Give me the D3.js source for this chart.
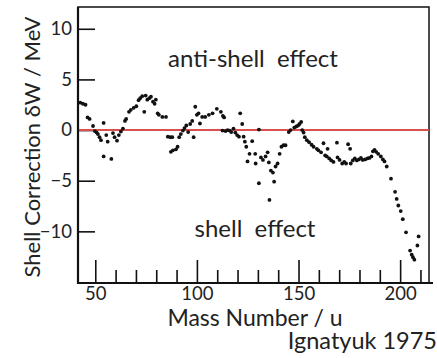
<!DOCTYPE html>
<html>
<head>
<meta charset="utf-8">
<script src="https://cdn.jsdelivr.net/npm/d3@7"></script>
<style>
  html, body { margin: 0; padding: 0; background: #fff; }
  svg { display: block; }
  text { font-family: Lato, "Open Sans", sans-serif; fill: #222; }
</style>
</head>
<body>
<svg id="chart" width="437" height="358"></svg>
<script>
// Mass number A of each nucleus
const massNumber = [
  42.6, 43.9, 45.2, 46.2, 47.2, 48.9, 49.8, 50.7, 51.3, 52.1, 52.8, 54.1, 54.1, 55.4, 56.1, 57.9,
  58.7, 59.5, 60.7, 61.6, 62.6, 63.6, 64.6, 65.2, 66.6, 67.5, 68.9, 70.2, 71.3, 72.1, 73.1, 74.1,
  74.8, 75.6, 76.6, 77.4, 78.4, 79.2, 79.8, 80.7, 81.3, 83.0, 84.8, 85.7, 86.9, 87.9, 87.2, 88.2,
  89.7, 90.5, 91.3, 92.1, 93.1, 93.9, 94.8, 95.7, 96.7, 97.7, 98.4, 99.2, 100.0, 100.8, 101.5, 102.6,
  104.1, 105.9, 107.7, 109.8, 111.8, 112.8, 113.4, 112.6, 114.1, 115.1, 116.1, 116.9, 118.0, 118.9, 119.8, 120.7,
  121.3, 122.3, 123.0, 123.6, 124.3, 124.9, 125.9, 127.2, 128.7, 128.9, 130.5, 130.5, 131.5, 132.5, 133.8, 134.8,
  135.4, 135.7, 136.4, 137.4, 138.0, 138.7, 139.7, 140.7, 141.6, 142.6, 143.6, 145.2, 146.1, 147.2, 147.9, 148.9,
  149.8, 150.5, 151.3, 151.8, 152.5, 153.1, 154.1, 155.2, 156.4, 157.4, 159.0, 159.8, 161.1, 162.3, 163.1, 163.9,
  164.3, 165.1, 166.1, 167.2, 168.9, 169.2, 170.2, 171.5, 172.5, 173.4, 174.4, 175.4, 175.7, 176.7, 177.7, 178.7,
  179.7, 180.7, 181.6, 182.8, 183.9, 184.9, 185.9, 186.6, 187.4, 188.2, 189.2, 190.5, 191.5, 192.3, 193.4, 195.5,
  197.5, 198.3, 199.1, 200.3, 201.3, 202.9, 204.9, 205.7, 206.3, 207.0, 208.5, 209.1
];

// Shell correction dW in MeV, same order as massNumber
const shellCorrection = [
  2.7, 2.6, 2.5, 1.25, 1.1, 0.4, -0.1, -0.25, -0.4, -0.7, -1.0, 0.7, -2.6, -0.5, -1.15, -2.85,
  -0.3, -0.7, -1.05, -0.5, -0.15, 0.15, 0.9, 1.1, 1.8, 2.0, 2.2, 2.35, 2.95, 3.15, 3.35, 1.8,
  3.4, 3.0, 3.15, 3.3, 2.8, 2.6, 3.0, 1.65, 1.5, 1.3, 1.3, -0.65, -0.7, -0.7, -2.15, -2.0,
  -1.9, -1.65, -0.7, -0.4, -0.05, 0.2, 0.45, -0.2, 0.6, 0.9, -0.7, 2.3, 1.5, 1.65, 0.65, 1.3,
  1.3, 1.5, 1.65, 2.1, 1.8, 1.4, 1.25, -0.05, -0.1, 0.0, -0.05, -0.2, 0.15, -0.25, -0.5, -0.65,
  1.65, 0.6, -0.65, -1.15, -1.65, -3.1, -2.35, -1.1, -2.35, -3.3, 0.05, -5.25, -2.7, -2.95, -2.6, -2.2,
  -3.2, -6.9, -4.0, -4.2, -5.1, -3.6, -3.3, -2.35, -1.65, -1.5, -1.5, -0.2, 0.0, 0.85, 0.25, 0.35,
  0.45, 0.6, 0.8, 0.0, -0.25, -0.7, -1.0, -1.2, -1.45, -1.65, -1.85, -2.0, -2.2, -1.3, -2.5, -2.6,
  -1.85, -2.8, -3.0, -3.15, -1.25, -2.7, -2.95, -3.3, -3.15, -3.3, -1.4, -1.85, -3.3, -3.0, -2.8, -3.0,
  -2.9, -2.75, -2.95, -2.9, -2.8, -2.75, -2.6, -2.1, -1.95, -2.15, -2.35, -2.6, -2.9, -3.1, -3.6, -4.8,
  -6.1, -6.8, -7.45, -8.0, -8.8, -10.1, -11.9, -12.3, -12.55, -12.8, -11.4, -10.5
];

// Axis ticks
const yTicks = [10, 5, 0, -5, -10];
const xMajorTicks = [50, 100, 150, 200];
const xMinorTicks = [60, 70, 80, 90, 110, 120, 130, 140, 160, 170, 180, 190, 210];

const svg = d3.select("#chart");
const plotLeft = 78, plotRight = 429, plotTop = 7, plotBottom = 283;

const x = d3.scaleLinear().domain([41.5, 214.2]).range([plotLeft, plotRight]);
const y = d3.scaleLinear().domain([-15.1, 12.15]).range([plotBottom, plotTop]);

// Frame
svg.append("rect")
  .attr("x", plotLeft).attr("y", plotTop)
  .attr("width", plotRight - plotLeft).attr("height", plotBottom - plotTop)
  .attr("fill", "none").attr("stroke", "#111").attr("stroke-width", 1.5);
svg.append("line")
  .attr("x1", plotLeft).attr("x2", plotLeft).attr("y1", plotTop).attr("y2", plotBottom + 1)
  .attr("stroke", "#111").attr("stroke-width", 2.2);
svg.append("line")
  .attr("x1", plotLeft - 1).attr("x2", plotRight + 4).attr("y1", plotBottom).attr("y2", plotBottom)
  .attr("stroke", "#111").attr("stroke-width", 2.2);

// Bottom axis: major ticks with labels, minor ticks without
const xMajor = svg.append("g")
  .attr("transform", `translate(0,${plotBottom})`)
  .call(d3.axisBottom(x).tickValues(xMajorTicks).tickSize(-23).tickPadding(4));
const xMinor = svg.append("g")
  .attr("transform", `translate(0,${plotBottom})`)
  .call(d3.axisBottom(x).tickValues(xMinorTicks).tickSize(-13).tickFormat(""));

// Left axis
const yAxis = svg.append("g")
  .attr("transform", `translate(${plotLeft},0)`)
  .call(d3.axisLeft(y).tickValues(yTicks).tickSize(-17).tickPadding(6));

[xMajor, xMinor, yAxis].forEach(g => {
  g.select(".domain").remove();
  g.selectAll(".tick line").attr("stroke", "#111").attr("stroke-width", 1.6);
  g.selectAll(".tick text")
    .attr("font-family", "Lato, 'Open Sans', sans-serif")
    .attr("font-size", 18.5).attr("fill", "#222");
});

// Zero line
svg.append("line")
  .attr("x1", plotLeft + 1).attr("x2", plotRight)
  .attr("y1", y(0)).attr("y2", y(0))
  .attr("stroke", "#d9504f").attr("stroke-width", 2);

// Data points
svg.append("g")
  .selectAll("circle")
  .data(d3.range(massNumber.length))
  .join("circle")
  .attr("cx", i => x(massNumber[i]))
  .attr("cy", i => y(shellCorrection[i]))
  .attr("r", 1.9)
  .attr("fill", "#111");

// Labels
svg.append("text")
  .attr("transform", "translate(40,147) rotate(-90)")
  .attr("text-anchor", "middle")
  .attr("font-size", 22)
  .text("Shell Correction δW / MeV");

svg.append("text")
  .attr("x", 255).attr("y", 326)
  .attr("text-anchor", "middle")
  .attr("font-size", 23)
  .text("Mass Number / u");

svg.append("text")
  .attr("x", 437).attr("y", 349)
  .attr("text-anchor", "end")
  .attr("font-size", 23.5)
  .text("Ignatyuk 1975");

svg.append("text")
  .attr("x", 253).attr("y", 67)
  .attr("text-anchor", "middle")
  .attr("font-size", 24)
  .style("white-space", "pre")
  .text("anti-shell  effect");

svg.append("text")
  .attr("x", 255).attr("y", 237)
  .attr("text-anchor", "middle")
  .attr("font-size", 24)
  .style("white-space", "pre")
  .text("shell  effect");
</script>
</body>
</html>
